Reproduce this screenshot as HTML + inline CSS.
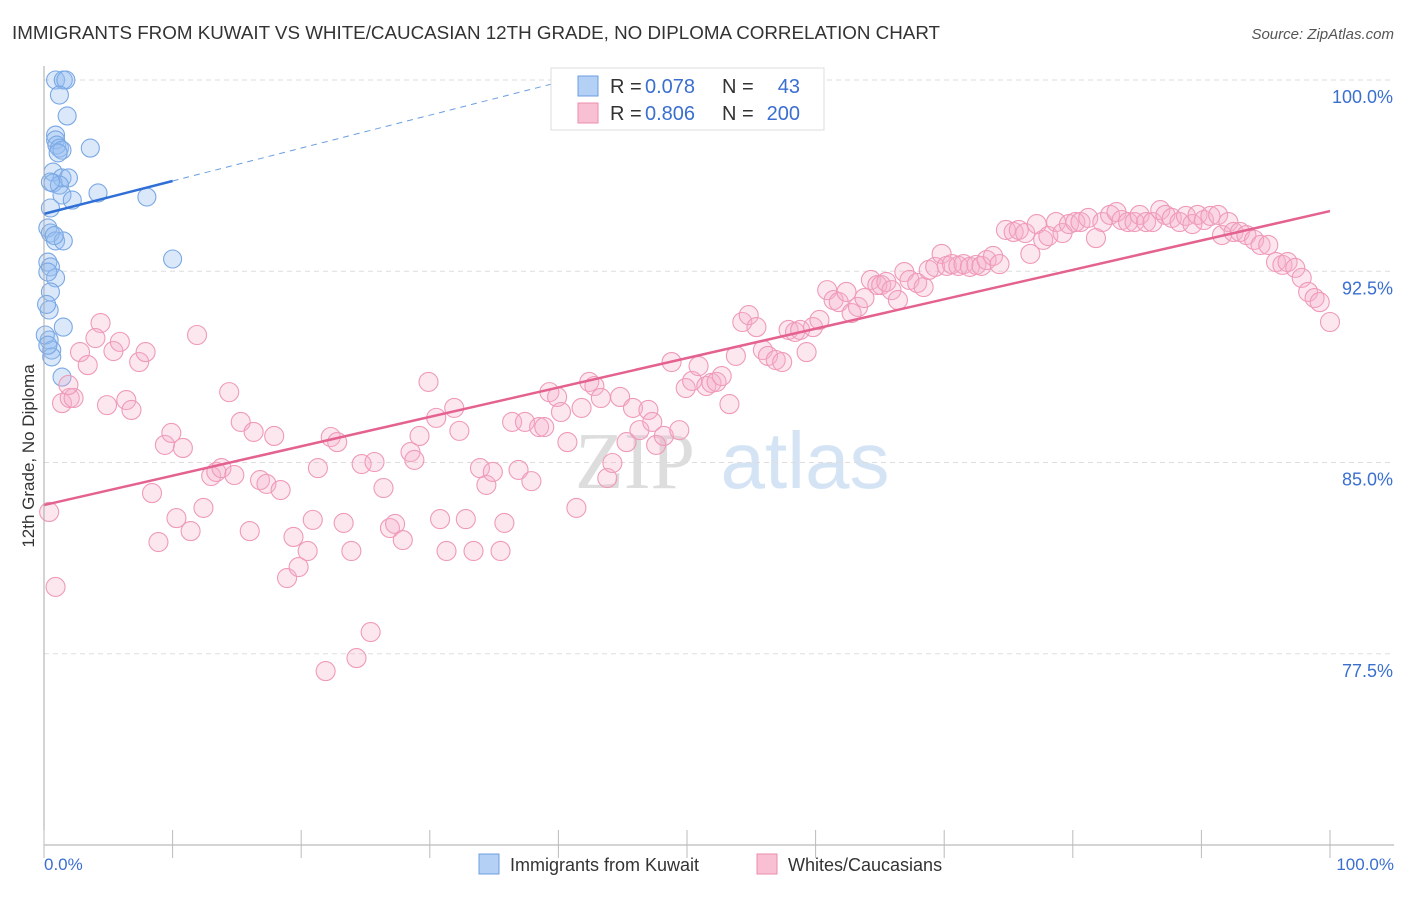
<!DOCTYPE html>
<html><head><meta charset="utf-8"><style>
body{margin:0;background:#fff;font-family:"Liberation Sans",sans-serif;}
</style></head><body>
<svg width="1406" height="892" xmlns="http://www.w3.org/2000/svg" id="svg" font-family="Liberation Sans, sans-serif">
<text x="12" y="39" font-size="18.8" fill="#333">IMMIGRANTS FROM KUWAIT VS WHITE/CAUCASIAN 12TH GRADE, NO DIPLOMA CORRELATION CHART</text>
<text x="1394" y="39" font-size="15" fill="#555" text-anchor="end" font-style="italic">Source: ZipAtlas.com</text>
<g font-size="80" text-anchor="middle"><text x="635" y="488" fill="#ddd" font-family="Liberation Serif, serif">ZIP</text><text x="805" y="488" fill="#d5e4f5">atlas</text></g>
<g id="grid"></g><g id="pts"></g><g id="trends"></g>
<line x1="44" y1="66" x2="44" y2="845" stroke="#aaa"/>
<line x1="44" y1="845" x2="1394" y2="845" stroke="#aaa"/>
<g id="xt"></g>
<text transform="translate(34,456) rotate(-90)" font-size="17" fill="#333" text-anchor="middle">12th Grade, No Diploma</text>
<text x="44" y="870" font-size="17" fill="#3a6fd0">0.0%</text>
<text x="1394" y="870" font-size="17" fill="#3a6fd0" text-anchor="end">100.0%</text>
<g font-size="20">
<rect x="551" y="68" width="273" height="62" fill="#fff" stroke="#ddd"/>
<rect x="578" y="76" width="20" height="20" fill="#b4d0f4" stroke="#6d9ee0"/>
<rect x="578" y="103" width="20" height="20" fill="#f8c0d2" stroke="#ec8eae"/>
<text x="610" y="93" fill="#333">R =</text><text x="645" y="93" fill="#3a6fd0">0.078</text>
<text x="722" y="93" fill="#333">N =</text><text x="800" y="93" fill="#3a6fd0" text-anchor="end">43</text>
<text x="610" y="120" fill="#333">R =</text><text x="645" y="120" fill="#3a6fd0">0.806</text>
<text x="722" y="120" fill="#333">N =</text><text x="800" y="120" fill="#3a6fd0" text-anchor="end">200</text>
</g>
<g>
<rect x="479" y="854" width="20" height="20" fill="#b4d0f4" stroke="#6d9ee0"/>
<text x="510" y="871" font-size="18" fill="#333">Immigrants from Kuwait</text>
<rect x="757" y="854" width="20" height="20" fill="#f8c0d2" stroke="#ec8eae"/>
<text x="788" y="871" font-size="18" fill="#333">Whites/Caucasians</text>
</g>
</svg>
<script>
const yTicks=[100,92.5,85,77.5];
const yTickLabels=["100.0%","92.5%","85.0%","77.5%"];
const xTicks=[0,10,20,30,40,50,60,70,80,90,100];
const blueX=[0.9,1.5,1.7,1.2,1.8,0.9,0.9,1.0,1.2,1.4,1.1,3.6,0.7,1.4,1.9,0.7,1.2,1.4,2.2,4.2,8.0,0.5,0.3,0.5,0.9,1.5,0.3,0.5,10.0,0.9,0.3,0.5,0.4,1.5,0.4,0.6,0.6,1.4,0.1,0.3,0.8,0.5,0.2];
const blueY=[100,100,100,99.41,98.59,97.84,97.65,97.45,97.33,97.25,97.14,97.33,96.39,96.16,96.16,95.96,95.88,95.49,95.29,95.57,95.41,94.98,94.2,94.0,93.69,93.69,92.86,92.67,92.98,92.24,92.47,91.69,90.98,90.31,89.8,89.41,89.14,88.35,90.0,89.6,93.9,96.0,91.2];
const pinkX=[0.4,0.9,1.4,2.0,2.3,1.9,2.8,3.4,4.4,4.0,4.9,5.4,5.9,6.4,6.8,7.4,7.9,8.4,8.9,9.4,9.9,10.3,10.8,11.4,11.9,12.4,13.0,13.4,13.8,14.4,14.8,15.3,16.0,16.3,16.8,17.3,17.9,18.4,18.9,19.4,19.8,20.5,20.9,21.3,21.9,22.3,22.8,23.3,23.9,24.3,24.7,25.4,25.7,26.4,26.9,27.3,27.9,28.5,28.8,29.2,29.9,30.5,30.8,31.3,31.9,32.3,32.8,33.4,33.9,34.4,34.9,35.5,35.8,36.4,36.9,37.4,37.9,38.5,38.9,39.3,39.9,40.2,40.7,41.4,41.8,42.4,42.8,43.3,43.8,44.2,44.8,45.3,45.8,46.3,47.0,47.3,47.6,48.2,48.8,49.4,49.9,50.4,50.9,51.5,51.9,52.3,52.7,53.3,53.8,54.3,54.8,55.4,55.9,56.3,56.9,57.4,57.9,58.4,58.8,59.3,59.8,60.3,60.9,61.4,61.8,62.4,62.8,63.3,63.8,64.3,64.8,65.1,65.5,65.9,66.4,66.9,67.3,67.9,68.4,68.8,69.3,69.8,70.2,70.6,71.1,71.5,72.0,72.5,72.9,73.3,73.8,74.3,74.8,75.4,75.8,76.3,76.7,77.2,77.7,78.1,78.7,79.2,79.7,80.2,80.6,81.2,81.8,82.3,82.9,83.4,83.8,84.3,84.8,85.2,85.7,86.2,86.8,87.2,87.7,88.3,88.8,89.3,89.7,90.2,90.7,91.3,91.6,92.1,92.5,93.0,93.5,94.1,94.6,95.2,95.8,96.3,96.7,97.3,97.8,98.3,98.8,99.2,100.0];
const pinkY=[83.06,80.12,87.33,87.53,87.53,88.04,89.33,88.82,90.47,89.88,87.25,89.37,89.73,87.45,87.06,88.94,89.33,83.8,81.88,85.69,86.16,82.82,85.57,82.31,90.0,83.22,84.47,84.63,84.78,87.76,84.51,86.59,82.31,86.2,84.31,84.16,86.04,83.92,80.47,82.08,80.9,81.53,82.75,84.78,76.82,86.0,85.8,82.63,81.53,77.33,84.94,78.35,85.02,84.0,82.43,82.59,81.96,85.41,85.1,86.04,88.16,86.75,82.78,81.53,87.14,86.24,82.78,81.53,84.78,84.12,84.63,81.53,82.63,86.59,84.71,86.59,84.27,86.39,86.39,87.76,87.57,86.98,85.8,83.22,87.14,88.16,88.0,87.53,84.39,84.98,87.57,85.8,87.14,86.27,87.06,86.59,85.69,86.04,88.94,86.27,87.92,88.2,88.78,88.0,88.12,88.16,88.39,87.29,89.18,90.51,90.78,90.31,89.41,89.18,89.02,88.94,90.2,90.12,90.2,89.33,90.31,90.59,91.76,91.37,91.29,91.69,90.86,91.1,91.45,92.16,91.96,91.96,92.08,91.76,91.37,92.47,92.16,92.04,91.88,92.55,92.67,93.18,92.71,92.78,92.71,92.78,92.67,92.75,92.71,92.94,93.1,92.78,94.12,94.04,94.12,94.0,93.18,94.35,93.73,93.88,94.43,94.0,94.35,94.43,94.43,94.59,93.8,94.43,94.71,94.82,94.51,94.43,94.43,94.71,94.43,94.43,94.9,94.71,94.59,94.43,94.67,94.35,94.71,94.51,94.67,94.71,93.92,94.43,94.04,94.04,93.92,93.73,93.53,93.53,92.86,92.75,92.86,92.63,92.24,91.69,91.45,91.29,90.51];
const blueTrend=[94.75,96.04];
const pinkTrend=[83.33,94.86];
const NS="http://www.w3.org/2000/svg";
const sx=p=>44+p*12.86, sy=v=>80+(100-v)*25.5;
function mk(t,a,parent){const e=document.createElementNS(NS,t);for(const k in a)e.setAttribute(k,a[k]);document.getElementById(parent).appendChild(e);return e;}
yTicks.forEach((v,i)=>{
 const l=mk('line',{x1:44,x2:1394,y1:sy(v),y2:sy(v),stroke:'#ddd','stroke-dasharray':'5,4'},'grid');
 
 
 const t=mk('text',{x:1393,y:sy(v)+23,'font-size':18,fill:'#3a6fd0','text-anchor':'end'},'grid');t.textContent=yTickLabels[i];
 
 
});
xTicks.forEach(p=>{const l=mk('line',{x1:sx(p),x2:sx(p),y1:830,y2:858,stroke:'#bbb'},'xt');
 
 });
blueX.forEach((p,i)=>{const c=mk('circle',{cx:sx(p),cy:sy(blueY[i]),r:9,fill:'rgba(150,190,240,0.35)',stroke:'#7aa8e4','stroke-width':1.1},'pts');
 
 });
pinkX.forEach((p,i)=>{const c=mk('circle',{cx:sx(p),cy:sy(pinkY[i]),r:9.5,fill:'rgba(246,176,202,0.3)',stroke:'#ef9ab8','stroke-width':1.1},'pts');
 
 });
const bs=(blueTrend[1]-blueTrend[0])/10, pEnd=(100-blueTrend[0])/bs;
let l=mk('line',{x1:sx(0),y1:sy(blueTrend[0]),x2:sx(10),y2:sy(blueTrend[1]),stroke:'#2f6fd6','stroke-width':2.5},'trends');


l=mk('line',{x1:sx(10),y1:sy(blueTrend[1]),x2:sx(pEnd),y2:sy(100),stroke:'#6a9ee0','stroke-width':1,'stroke-dasharray':'6,5'},'trends');


l=mk('line',{x1:sx(0),y1:sy(pinkTrend[0]),x2:sx(100),y2:sy(pinkTrend[1]),stroke:'#e4628f','stroke-width':2.5},'trends');


</script>
</body></html>
